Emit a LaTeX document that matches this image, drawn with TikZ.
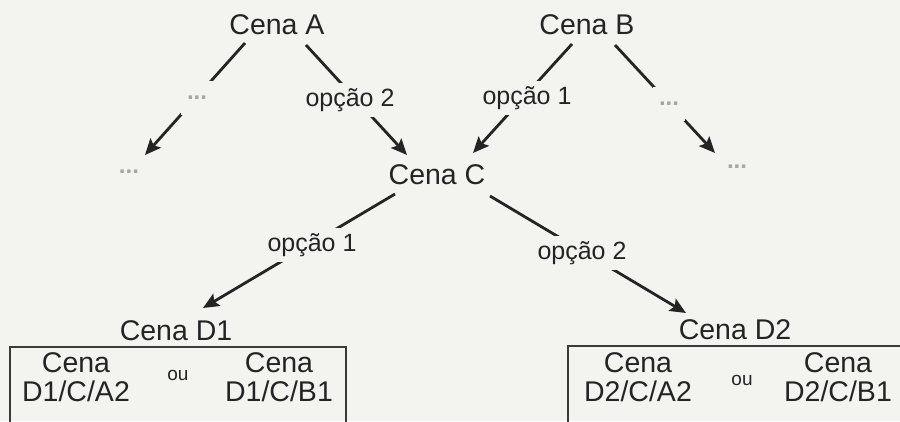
\documentclass[tikz,border=0pt]{standalone}
\usepackage{fontspec}
\setmainfont{Liberation Sans}
\usetikzlibrary{arrows.meta,calc}
\definecolor{bg}{HTML}{F3F3F0}
\definecolor{ink}{HTML}{242424}

\begin{document}
\begin{tikzpicture}[x=1pt,y=-1pt,
  scene/.style={inner sep=0pt, text=ink, align=center, font=\fontsize{28.5}{29}\selectfont},
  opt/.style={inner sep=5.5pt, fill=bg, text=ink, font=\fontsize{25}{27}\selectfont},
  more/.style={inner sep=0pt, fill=bg, minimum width=32pt, minimum height=34pt,
               text=gray!70, font=\fontsize{24}{26}\bfseries\selectfont},
  orword/.style={inner sep=0pt, text=ink, font=\fontsize{19}{21}\selectfont},
  link/.style={draw=ink, line width=2.8pt},
  arr/.style={link, -{Stealth[length=16pt,width=14pt,inset=3pt]}},
  frame/.style={draw=ink!90, line width=2pt}
]
% canvas
\fill[bg] (0,0) rectangle (900,421);
\useasboundingbox (0,0) rectangle (900,421);

% scenes
\node[scene] (A)  at (277,25)  {Cena A};
\node[scene] (B)  at (587,25)  {Cena B};
\node[scene] (C)  at (437,175) {Cena C};
\node[scene] (D1) at (176,331) {Cena D1};
\node[scene] (D2) at (735,330) {Cena D2};
\node[more, fill=none] (L) at (129,172) {...};
\node[more, fill=none] (R) at (737,167) {...};

% branches
\draw[arr] ($(A)+(-32,18)$) -- ($(L)+(16,-17)$);
\draw[arr] ($(A)+(29,20)$)  -- ($(C)+(-30,-20)$);
\draw[arr] ($(B)+(-15,19)$) -- ($(C)+(36,-22)$);
\draw[arr] ($(B)+(28,20)$)  -- ($(R)+(-22,-14)$);
\draw[arr] ($(C)+(-42,19)$) -- ($(D1)+(27,-23)$);
\draw[arr] ($(C)+(53,21)$)  -- ($(D2)+(-49,-17)$);

% labels sitting on the branches
\node[more] (LA) at (197,98)  {...};
\node[opt]  (A2) at (350,100) {opção 2};
\node[opt]  (B1) at (527,98)  {opção 1};
\node[more] (RB) at (669,104) {...};
\node[opt]  (C1) at (312,245) {opção 1};
\node[opt]  (C2) at (582,253) {opção 2};

% variants of scene D1
\draw[frame] (10,430) -- (10,347) -- (346,347) -- (346,430);
\node[scene] (D1a) at (76,377)  {Cena\\D1/C/A2};
\node[orword] (D1o) at (178,375) {ou};
\node[scene] (D1b) at (279,377) {Cena\\D1/C/B1};

% variants of scene D2
\draw[frame] (568,430) -- (568,346) -- (905,346);
\node[scene] (D2a) at (638,377) {Cena\\D2/C/A2};
\node[orword] (D2o) at (742,380) {ou};
\node[scene] (D2b) at (838,377) {Cena\\D2/C/B1};
\end{tikzpicture}
\end{document}
